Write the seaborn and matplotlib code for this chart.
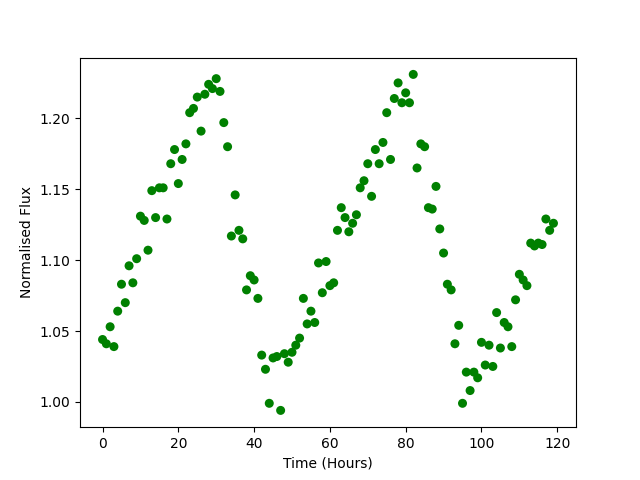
import numpy as np
import pandas as pd
import matplotlib
matplotlib.use("Agg")
import matplotlib.pyplot as plt
import seaborn as sns

# Time axis (one reading per hour)
hours = list(range(120))

# Normalised flux values
flux = [
    1.044, 1.041, 1.053, 1.039, 1.064, 1.083, 1.070, 1.096, 1.084, 1.101,
    1.131, 1.128, 1.107, 1.149, 1.130, 1.151, 1.151, 1.129, 1.168, 1.178,
    1.154, 1.171, 1.182, 1.204, 1.207, 1.215, 1.191, 1.217, 1.224, 1.221,
    1.228, 1.219, 1.197, 1.180, 1.117, 1.146, 1.121, 1.115, 1.079, 1.089,
    1.086, 1.073, 1.033, 1.023, 0.999, 1.031, 1.032, 0.994, 1.034, 1.028,
    1.035, 1.040, 1.045, 1.073, 1.055, 1.064, 1.056, 1.098, 1.077, 1.099,
    1.082, 1.084, 1.121, 1.137, 1.130, 1.120, 1.126, 1.132, 1.151, 1.156,
    1.168, 1.145, 1.178, 1.168, 1.183, 1.204, 1.171, 1.214, 1.225, 1.211,
    1.218, 1.211, 1.231, 1.165, 1.182, 1.180, 1.137, 1.136, 1.152, 1.122,
    1.105, 1.083, 1.079, 1.041, 1.054, 0.999, 1.021, 1.008, 1.021, 1.017,
    1.042, 1.026, 1.040, 1.025, 1.063, 1.038, 1.056, 1.053, 1.039, 1.072,
    1.090, 1.086, 1.082, 1.112, 1.110, 1.112, 1.111, 1.129, 1.121, 1.126,
]

df = pd.DataFrame({"Time (Hours)": hours, "Normalised Flux": flux})

fig, ax = plt.subplots(figsize=(6.4, 4.8), dpi=100)
sns.scatterplot(data=df, x="Time (Hours)", y="Normalised Flux",
                color="green", s=42, edgecolor="none", ax=ax)
ax.set_xlabel("Time (Hours)")
ax.set_ylabel("Normalised Flux")

plt.savefig("out.png", dpi=100)
